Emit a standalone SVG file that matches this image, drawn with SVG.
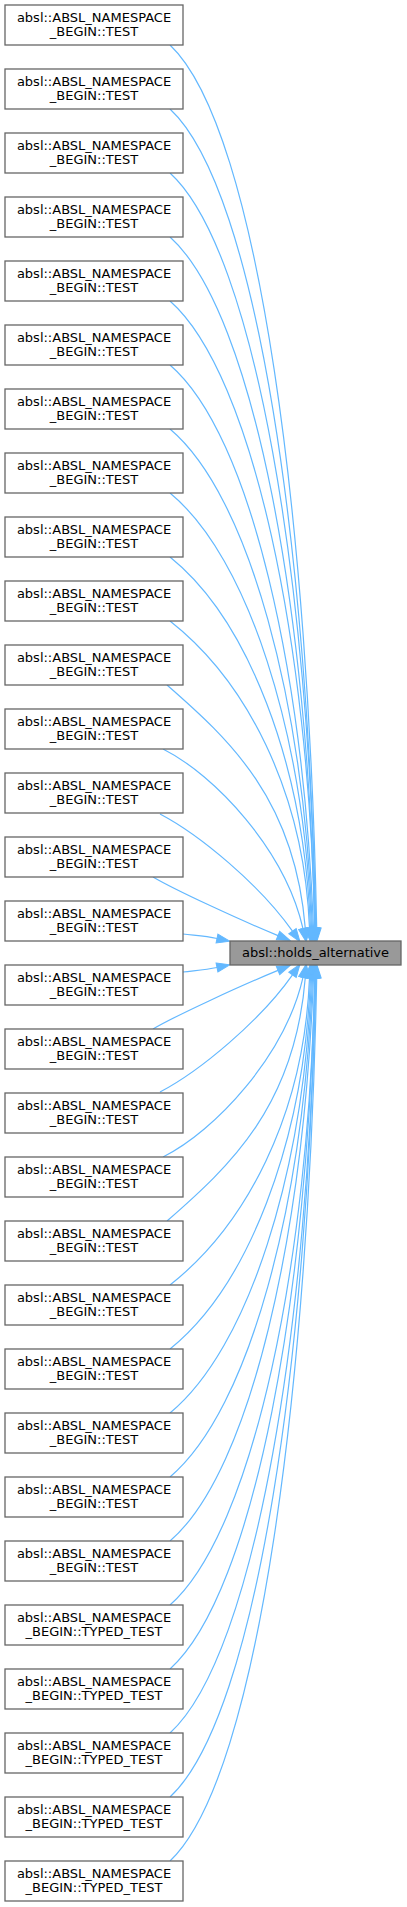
<svg xmlns="http://www.w3.org/2000/svg" width="407" height="1907" viewBox="0 0 407 1907">
<style>
.node rect{fill:#ffffff;stroke:#666666;stroke-width:1.3}
.node text{font-family:"DejaVu Sans",sans-serif;font-size:13px;text-anchor:middle;fill:#000000}
#target rect{fill:#999999}
.edge{fill:none;stroke:#63b8ff;stroke-width:1.2;marker-end:url(#arr)}
</style>
<defs>
<marker id="arr" markerUnits="userSpaceOnUse" markerWidth="14" markerHeight="10" refX="0" refY="4.5" orient="auto" overflow="visible">
<path d="M0,0 L13,4.5 L0,9 z" fill="#63b8ff" stroke="#63b8ff" stroke-width="1"/>
</marker>
</defs>
<rect width="407" height="1907" fill="#ffffff"/>
<g id="edges">
<path class="edge" d="M170,45 C260,130 308.8,530.6 316.7,928"/>
<path class="edge" d="M170,109 C258.3,191.1 308.3,559.4 315.7,928"/>
<path class="edge" d="M170,173 C256.7,252.2 308.9,588.2 315.7,928"/>
<path class="edge" d="M170,237 C255,313.3 308.5,617 314.7,928"/>
<path class="edge" d="M170,301 C253.3,374.4 309.1,645.8 314.7,928"/>
<path class="edge" d="M170,365 C251.7,435.5 303.4,674.6 313.5,928"/>
<path class="edge" d="M170,429 C250,496.6 303.5,703.4 312.5,928"/>
<path class="edge" d="M170,493 C248.3,557.7 303.7,732.2 311.5,928"/>
<path class="edge" d="M170,557 C246.7,618.8 303.8,761 310.5,928"/>
<path class="edge" d="M170,621 C245,680 304,789.8 309.5,928"/>
<path class="edge" d="M167,685 C230,740 295,800 305.3,928.5"/>
<path class="edge" d="M163,749 C215,775 285,850 303,928.6"/>
<path class="edge" d="M160,814 C200,835 260,885 292.5,931.2"/>
<path class="edge" d="M153,877 C175,890 240,920 278,935.6"/>
<path class="edge" d="M183,934 C195,935.5 205,936 217,938.5"/>
<path class="edge" d="M183,972 C195,970.5 205,970 217,967.5"/>
<path class="edge" d="M153,1029 C175,1016 240,986 278,970.4"/>
<path class="edge" d="M160,1092 C200,1071 260,1021 292.5,974.8"/>
<path class="edge" d="M163,1157 C215,1131 285,1056 303,977.4"/>
<path class="edge" d="M167,1221 C230,1166 295,1106 305.3,977.5"/>
<path class="edge" d="M170,1285 C245,1226 304,1116.2 309.5,978"/>
<path class="edge" d="M170,1349 C246.7,1287.2 303.8,1145 310.5,978"/>
<path class="edge" d="M170,1413 C248.3,1348.3 303.7,1173.8 311.5,978"/>
<path class="edge" d="M170,1477 C250,1409.4 303.5,1202.6 312.5,978"/>
<path class="edge" d="M170,1541 C251.7,1470.5 303.4,1231.4 313.5,978"/>
<path class="edge" d="M170,1605 C253.3,1531.6 309.1,1260.2 314.7,978"/>
<path class="edge" d="M170,1669 C255,1592.7 308.5,1289 314.7,978"/>
<path class="edge" d="M170,1733 C256.7,1653.8 308.9,1317.8 315.7,978"/>
<path class="edge" d="M170,1797 C258.3,1714.9 308.3,1346.6 315.7,978"/>
<path class="edge" d="M170,1861 C260,1776 308.8,1375.4 316.7,978"/>
</g>
<g id="target" class="node"><rect x="230" y="941" width="171" height="24"/><text x="315.5" y="957">absl::holds_alternative</text></g>
<g id="n1" class="node"><rect x="5" y="5" width="178" height="40"/><text x="94" y="21.5">absl::ABSL_NAMESPACE</text><text x="94" y="36">_BEGIN::TEST</text></g>
<g id="n2" class="node"><rect x="5" y="69" width="178" height="40"/><text x="94" y="85.5">absl::ABSL_NAMESPACE</text><text x="94" y="100">_BEGIN::TEST</text></g>
<g id="n3" class="node"><rect x="5" y="133" width="178" height="40"/><text x="94" y="149.5">absl::ABSL_NAMESPACE</text><text x="94" y="164">_BEGIN::TEST</text></g>
<g id="n4" class="node"><rect x="5" y="197" width="178" height="40"/><text x="94" y="213.5">absl::ABSL_NAMESPACE</text><text x="94" y="228">_BEGIN::TEST</text></g>
<g id="n5" class="node"><rect x="5" y="261" width="178" height="40"/><text x="94" y="277.5">absl::ABSL_NAMESPACE</text><text x="94" y="292">_BEGIN::TEST</text></g>
<g id="n6" class="node"><rect x="5" y="325" width="178" height="40"/><text x="94" y="341.5">absl::ABSL_NAMESPACE</text><text x="94" y="356">_BEGIN::TEST</text></g>
<g id="n7" class="node"><rect x="5" y="389" width="178" height="40"/><text x="94" y="405.5">absl::ABSL_NAMESPACE</text><text x="94" y="420">_BEGIN::TEST</text></g>
<g id="n8" class="node"><rect x="5" y="453" width="178" height="40"/><text x="94" y="469.5">absl::ABSL_NAMESPACE</text><text x="94" y="484">_BEGIN::TEST</text></g>
<g id="n9" class="node"><rect x="5" y="517" width="178" height="40"/><text x="94" y="533.5">absl::ABSL_NAMESPACE</text><text x="94" y="548">_BEGIN::TEST</text></g>
<g id="n10" class="node"><rect x="5" y="581" width="178" height="40"/><text x="94" y="597.5">absl::ABSL_NAMESPACE</text><text x="94" y="612">_BEGIN::TEST</text></g>
<g id="n11" class="node"><rect x="5" y="645" width="178" height="40"/><text x="94" y="661.5">absl::ABSL_NAMESPACE</text><text x="94" y="676">_BEGIN::TEST</text></g>
<g id="n12" class="node"><rect x="5" y="709" width="178" height="40"/><text x="94" y="725.5">absl::ABSL_NAMESPACE</text><text x="94" y="740">_BEGIN::TEST</text></g>
<g id="n13" class="node"><rect x="5" y="773" width="178" height="40"/><text x="94" y="789.5">absl::ABSL_NAMESPACE</text><text x="94" y="804">_BEGIN::TEST</text></g>
<g id="n14" class="node"><rect x="5" y="837" width="178" height="40"/><text x="94" y="853.5">absl::ABSL_NAMESPACE</text><text x="94" y="868">_BEGIN::TEST</text></g>
<g id="n15" class="node"><rect x="5" y="901" width="178" height="40"/><text x="94" y="917.5">absl::ABSL_NAMESPACE</text><text x="94" y="932">_BEGIN::TEST</text></g>
<g id="n16" class="node"><rect x="5" y="965" width="178" height="40"/><text x="94" y="981.5">absl::ABSL_NAMESPACE</text><text x="94" y="996">_BEGIN::TEST</text></g>
<g id="n17" class="node"><rect x="5" y="1029" width="178" height="40"/><text x="94" y="1045.5">absl::ABSL_NAMESPACE</text><text x="94" y="1060">_BEGIN::TEST</text></g>
<g id="n18" class="node"><rect x="5" y="1093" width="178" height="40"/><text x="94" y="1109.5">absl::ABSL_NAMESPACE</text><text x="94" y="1124">_BEGIN::TEST</text></g>
<g id="n19" class="node"><rect x="5" y="1157" width="178" height="40"/><text x="94" y="1173.5">absl::ABSL_NAMESPACE</text><text x="94" y="1188">_BEGIN::TEST</text></g>
<g id="n20" class="node"><rect x="5" y="1221" width="178" height="40"/><text x="94" y="1237.5">absl::ABSL_NAMESPACE</text><text x="94" y="1252">_BEGIN::TEST</text></g>
<g id="n21" class="node"><rect x="5" y="1285" width="178" height="40"/><text x="94" y="1301.5">absl::ABSL_NAMESPACE</text><text x="94" y="1316">_BEGIN::TEST</text></g>
<g id="n22" class="node"><rect x="5" y="1349" width="178" height="40"/><text x="94" y="1365.5">absl::ABSL_NAMESPACE</text><text x="94" y="1380">_BEGIN::TEST</text></g>
<g id="n23" class="node"><rect x="5" y="1413" width="178" height="40"/><text x="94" y="1429.5">absl::ABSL_NAMESPACE</text><text x="94" y="1444">_BEGIN::TEST</text></g>
<g id="n24" class="node"><rect x="5" y="1477" width="178" height="40"/><text x="94" y="1493.5">absl::ABSL_NAMESPACE</text><text x="94" y="1508">_BEGIN::TEST</text></g>
<g id="n25" class="node"><rect x="5" y="1541" width="178" height="40"/><text x="94" y="1557.5">absl::ABSL_NAMESPACE</text><text x="94" y="1572">_BEGIN::TEST</text></g>
<g id="n26" class="node"><rect x="5" y="1605" width="178" height="40"/><text x="94" y="1621.5">absl::ABSL_NAMESPACE</text><text x="94" y="1636">_BEGIN::TYPED_TEST</text></g>
<g id="n27" class="node"><rect x="5" y="1669" width="178" height="40"/><text x="94" y="1685.5">absl::ABSL_NAMESPACE</text><text x="94" y="1700">_BEGIN::TYPED_TEST</text></g>
<g id="n28" class="node"><rect x="5" y="1733" width="178" height="40"/><text x="94" y="1749.5">absl::ABSL_NAMESPACE</text><text x="94" y="1764">_BEGIN::TYPED_TEST</text></g>
<g id="n29" class="node"><rect x="5" y="1797" width="178" height="40"/><text x="94" y="1813.5">absl::ABSL_NAMESPACE</text><text x="94" y="1828">_BEGIN::TYPED_TEST</text></g>
<g id="n30" class="node"><rect x="5" y="1861" width="178" height="40"/><text x="94" y="1877.5">absl::ABSL_NAMESPACE</text><text x="94" y="1892">_BEGIN::TYPED_TEST</text></g>
</svg>
